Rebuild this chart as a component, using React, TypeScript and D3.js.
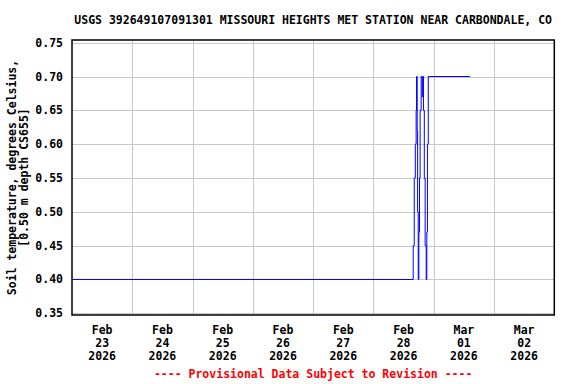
import React from "react";
import * as d3 from "d3";

const title = "USGS 392649107091301 MISSOURI HEIGHTS MET STATION NEAR CARBONDALE, CO";
const yTitleLines = ["Soil temperature, degrees Celsius,", "[0.50 m depth CS655]"];
const footer = "---- Provisional Data Subject to Revision ----";

const yTicks = [0.35, 0.4, 0.45, 0.5, 0.55, 0.6, 0.65, 0.7, 0.75];
const dayLabels = [
  "2026-02-23", "2026-02-24", "2026-02-25", "2026-02-26",
  "2026-02-27", "2026-02-28", "2026-03-01", "2026-03-02",
];
const gridDays = [
  "2026-02-24", "2026-02-25", "2026-02-26", "2026-02-27",
  "2026-02-28", "2026-03-01", "2026-03-02",
];
const domainStart = "2026-02-23T00:00";
const domainEnd = "2026-03-03T00:00";

const times = [
  "2026-02-23T00:00", "2026-02-28T15:50", "2026-02-28T16:15", "2026-02-28T16:40",
  "2026-02-28T17:00", "2026-02-28T17:10", "2026-02-28T17:25", "2026-02-28T17:35",
  "2026-02-28T17:50", "2026-02-28T18:05", "2026-02-28T18:20", "2026-02-28T18:35",
  "2026-02-28T19:00", "2026-02-28T19:25", "2026-02-28T19:40", "2026-02-28T19:55",
  "2026-02-28T20:15", "2026-02-28T20:35", "2026-02-28T21:00", "2026-02-28T21:15",
  "2026-02-28T21:30", "2026-02-28T21:50", "2026-03-01T14:25",
];
const values = [
  0.40, 0.45, 0.55, 0.60,
  0.65, 0.70, 0.62, 0.50,
  0.40, 0.47, 0.55, 0.65,
  0.70, 0.67, 0.70, 0.65,
  0.55, 0.45, 0.40, 0.47,
  0.60, 0.70, 0.70,
];

const parseT = d3.utcParse("%Y-%m-%dT%H:%M");
const parseD = d3.utcParse("%Y-%m-%d");

export default function App() {
  const W = 576, H = 384;
  const left = 72, right = 554.3, top = 40, bottom = 315;
  const x = d3.scaleUtc()
    .domain([parseT(domainStart)!, parseT(domainEnd)!])
    .range([left, right]);
  const y = d3.scaleLinear().domain([0.35, 0.75]).range([313.3, 42.7]);

  const data = times.map((t, i) => ({ t: parseT(t)!, v: values[i] }));
  const line = d3.line<{ t: Date; v: number }>()
    .x((d) => x(d.t))
    .y((d) => y(d.v))
    .curve(d3.curveStepAfter);

  const font = "'DejaVu Sans Mono', monospace";
  const fmtB = d3.utcFormat("%b");
  const fmtD = d3.utcFormat("%d");
  const fmtY = d3.utcFormat("%Y");

  return (
    <svg width={W} height={H} style={{ position: "absolute", left: 0, top: 0, background: "#fff" }}
      fontFamily={font} fontWeight="bold" fontSize={11.5}>
      <rect x={0} y={0} width={W} height={H} fill="#fff" />
      <text x={(left + right) / 2} y={24} textAnchor="middle" fill="#000">{title}</text>
      {yTicks.map((t) => (
        <line key={"gy" + t} x1={left} x2={right} y1={Math.round(y(t)) + 0.5} y2={Math.round(y(t)) + 0.5}
          stroke="#c8c8c8" strokeWidth={1} />
      ))}
      {gridDays.map((d) => {
        const gx = Math.round(x(parseD(d)!)) + 0.5;
        return <line key={"gx" + d} x1={gx} x2={gx} y1={top} y2={bottom} stroke="#c8c8c8" strokeWidth={1} />;
      })}
      <path d={line(data) || ""} fill="none" stroke="#0000ff" strokeWidth={1} />
      <rect x={left} y={top} width={right - left} height={bottom - top} fill="none" stroke="#000" strokeWidth={1.5} />
      {yTicks.map((t) => (
        <text key={"yl" + t} x={63} y={y(t) + 4} textAnchor="end" fill="#000">{t.toFixed(2)}</text>
      ))}
      {dayLabels.map((d) => {
        const dt = parseD(d)!;
        const cx = x(d3.utcHour.offset(dt, 12));
        return (
          <text key={"xl" + d} x={cx} textAnchor="middle" fill="#000">
            <tspan x={cx} y={334}>{fmtB(dt)}</tspan>
            <tspan x={cx} y={347}>{fmtD(dt)}</tspan>
            <tspan x={cx} y={360}>{fmtY(dt)}</tspan>
          </text>
        );
      })}
      <text transform={`translate(16,${(top + bottom) / 2}) rotate(-90)`} textAnchor="middle" fill="#000">{yTitleLines[0]}</text>
      <text transform={`translate(27.5,${(top + bottom) / 2}) rotate(-90)`} textAnchor="middle" fill="#000">{yTitleLines[1]}</text>
      <text x={(left + right) / 2} y={378} textAnchor="middle" fill="#ff0000">{footer}</text>
    </svg>
  );
}
